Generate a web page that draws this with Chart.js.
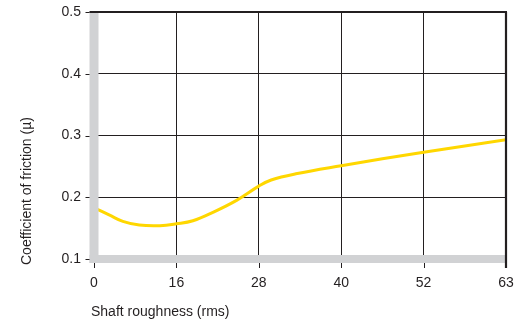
<!DOCTYPE html>
<html>
<head>
<meta charset="utf-8">
<script src="https://cdn.jsdelivr.net/npm/chart.js@4.4.1/dist/chart.umd.min.js"></script>
<style>
  html, body { margin: 0; padding: 0; background: #ffffff; }
  #wrap { width: 521px; height: 320px; position: relative; }
</style>
</head>
<body>
<div id="wrap"><canvas id="c" width="521" height="320"></canvas></div>
<script>
// ---- data ----
const xTickLabels = ['0', '16', '28', '40', '52', '63'];   // shaft roughness (rms), evenly spaced on the axis
const yTicks = [0.1, 0.2, 0.3, 0.4, 0.5];
// curve samples: position along the category axis (0 = "0", 5 = "63") and friction coefficient
const curveX = [0, 0.19, 0.35, 0.55, 0.8, 1.0, 1.2, 1.45, 1.73, 2.0, 2.15, 2.45, 3.0, 4.0, 5.0];
const curveY = [0.183, 0.171, 0.161, 0.155, 0.154, 0.157, 0.162, 0.176, 0.195, 0.218, 0.228, 0.238, 0.251, 0.273, 0.293];
const xTitle = 'Shaft roughness (rms)';
const yTitle = 'Coefficient of friction (µ)';

const FONT = "'Liberation Sans', Arial, Helvetica, sans-serif";
const TEXT = '#231f20';
const GRID = '#231f20';
const GREY = '#d1d2d4';
const YELLOW = '#ffd700';

const frame = {
  id: 'frame',
  afterDatasetsDraw(chart) {
    const { ctx, chartArea: a, scales } = chart;
    const xs = scales.x, ys = scales.y;
    ctx.save();
    // grey axis bars
    ctx.fillStyle = GREY;
    ctx.fillRect(a.left - 4.5, a.top, 9, a.bottom - a.top + 4);
    ctx.fillRect(a.left - 4.5, a.bottom - 4, a.right - a.left + 4.5, 8);
    // top and right black borders
    ctx.strokeStyle = GRID;
    ctx.lineWidth = 2.2;
    ctx.beginPath();
    ctx.moveTo(a.left - 4.5, a.top);
    ctx.lineTo(a.right + 1, a.top);
    ctx.moveTo(a.right, a.top);
    ctx.lineTo(a.right, a.bottom + 9);
    ctx.stroke();
    // tick marks
    ctx.lineWidth = 1;
    ctx.beginPath();
    yTicks.forEach(v => {
      const y = Math.round(ys.getPixelForValue(v)) + 0.5;
      ctx.moveTo(a.left - 8.5, y);
      ctx.lineTo(a.left - 4.5, y);
    });
    xTickLabels.forEach((l, i) => {
      const x = Math.round(xs.getPixelForValue(i)) + 0.5;
      ctx.moveTo(x, a.bottom + 4);
      ctx.lineTo(x, a.bottom + 9);
    });
    ctx.stroke();
    // axis titles
    ctx.fillStyle = TEXT;
    ctx.font = '14px ' + FONT;
    ctx.textBaseline = 'middle';
    ctx.textAlign = 'left';
    ctx.fillText(xTitle, a.left - 3, 312);
    ctx.translate(27, a.bottom + 6);
    ctx.rotate(-Math.PI / 2);
    ctx.textAlign = 'left';
    ctx.fillText(yTitle, 0, 0);
    ctx.restore();
  }
};

new Chart(document.getElementById('c'), {
  type: 'line',
  data: {
    datasets: [{
      data: curveX.map((x, i) => ({ x: x, y: curveY[i] })),
      borderColor: YELLOW,
      borderWidth: 3,
      pointRadius: 0,
      fill: false,
      tension: 0.4
    }]
  },
  options: {
    responsive: false,
    animation: false,
    layout: { padding: { left: 0, top: 12, right: 15, bottom: 0 } },
    plugins: { legend: { display: false }, tooltip: { enabled: false } },
    scales: {
      x: {
        type: 'linear',
        min: 0, max: xTickLabels.length - 1,
        afterFit(s) { s.height = 61; s.paddingLeft = 0; s.paddingRight = 0; },
        afterBuildTicks(s) { s.ticks = xTickLabels.map((l, i) => ({ value: i })); },
        grid: { color: GRID, lineWidth: 1, drawTicks: false },
        border: { display: false },
        ticks: {
          padding: 16,
          color: TEXT,
          font: { family: FONT, size: 14 },
          maxRotation: 0,
          callback: (v) => xTickLabels[v]
        }
      },
      y: {
        min: yTicks[0], max: yTicks[yTicks.length - 1],
        afterFit(s) { s.width = 94; s.paddingTop = 0; s.paddingBottom = 0; },
        afterBuildTicks(s) { s.ticks = yTicks.map(v => ({ value: v })); },
        grid: { color: GRID, lineWidth: 1, drawTicks: false },
        border: { display: false },
        ticks: {
          padding: 13,
          color: TEXT,
          font: { family: FONT, size: 14 },
          callback: (v) => Number(v).toFixed(1)
        }
      }
    }
  },
  plugins: [frame]
});
</script>
</body>
</html>
